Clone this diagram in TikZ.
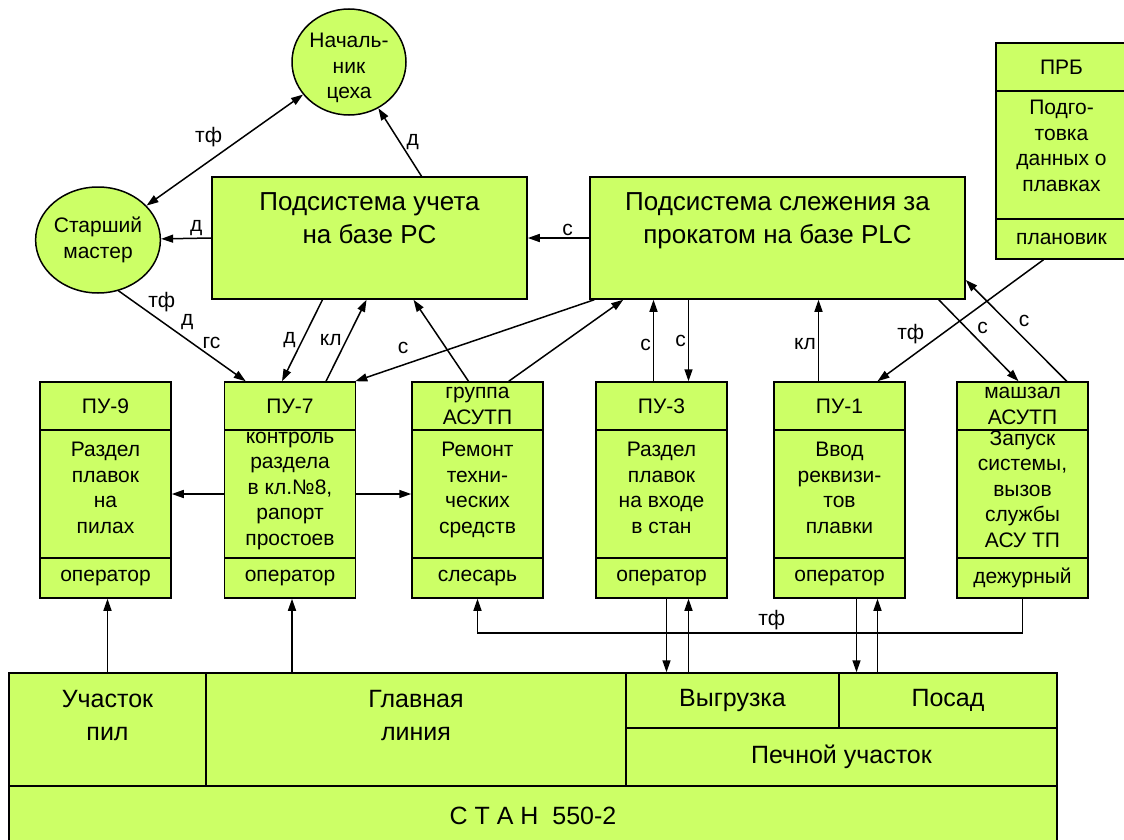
\documentclass[tikz,border=0pt]{standalone}
\usepackage{fontspec}
\setmainfont{Liberation Sans}
\usetikzlibrary{arrows.meta,shapes.geometric}
\definecolor{boxgreen}{RGB}{204,255,102}

\begin{document}
\begin{tikzpicture}[x=1pt,y=-1pt,
    >={Triangle[length=12pt,width=8pt]},
    line width=1.5pt,
    box/.style={draw,fill=boxgreen,line width=1.5pt,inner sep=0pt,align=center,font=\fontsize{21}{25.5}\selectfont},
    puhead/.style={box,minimum width=131pt,minimum height=48pt},
    pubody/.style={box,minimum width=131pt,minimum height=128pt},
    pufoot/.style={box,minimum width=131pt,minimum height=40pt},
    boss/.style={box,ellipse,minimum width=114pt,minimum height=106pt},
    bosstext/.style={align=center,inner sep=0pt,font=\fontsize{21}{25.5}\selectfont},
    bigbox/.style={box,minimum height=122pt},
    bigtext/.style={align=center,inner sep=0pt,font=\fontsize{26}{33}\selectfont},
    mill/.style={box,font=\fontsize{25}{33}\selectfont},
    milltext/.style={align=center,inner sep=0pt,font=\fontsize{25}{33}\selectfont},
    lbl/.style={font=\fontsize{21}{25}\selectfont,inner sep=2pt}]
    \clip (0,0) rectangle (1124,840);

    % Chiefs %
    \node[boss] (nach) at (349,62) {};
    \node[bosstext] (nachtext) at ([yshift=-6pt]nach) {Началь-\\ник\\цеха};
    \node[boss] (star) at (98,240) {Старший\\мастер};

    % Subsystems %
    \node[bigbox,minimum width=315pt] (uch) at (369.5,238) {};
    \node[bigtext,anchor=north] (uchtext) at ([yshift=-16pt]uch.north) {Подсистема учета\\на базе PC};
    \node[bigbox,minimum width=375pt] (sled) at (777.5,238) {};
    \node[bigtext,anchor=north] (sledtext) at ([yshift=-16pt]sled.north) {Подсистема слежения за\\прокатом на базе PLC};

    % PRB %
    \node[puhead] (prbh) at (1061.5,67) {ПРБ};
    \node[pubody] (prbb) at (1061.5,155) {Подго-\\товка\\данных о\\плавках\\[-7pt]};
    \node[pufoot] (prbf) at (1061.5,239) {плановик};

    % Stations %
    \node[puhead] (pu9h) at (105.5,406) {ПУ-9};
    \node[pubody] (pu9b) at (105.5,494) {Раздел\\плавок\\на\\пилах\\[-13pt]};
    \node[pufoot] (pu9f) at (105.5,578) {оператор};

    \node[puhead] (pu7h) at (290,406) {ПУ-7};
    \node[pubody] (pu7b) at (290,494) {контроль\\раздела\\в кл.№8,\\рапорт\\простоев\\[-15pt]};
    \node[pufoot] (pu7f) at (290,578) {оператор};

    \node[puhead] (grph) at (477.5,406) {группа\\АСУТП};
    \node[pubody] (grpb) at (477.5,494) {Ремонт\\техни-\\ческих\\средств\\[-13pt]};
    \node[pufoot] (grpf) at (477.5,578) {слесарь};

    \node[puhead] (pu3h) at (661.5,406) {ПУ-3};
    \node[pubody] (pu3b) at (661.5,494) {Раздел\\плавок\\на входе\\в стан\\[-13pt]};
    \node[pufoot] (pu3f) at (661.5,578) {оператор};

    \node[puhead] (pu1h) at (839.5,406) {ПУ-1};
    \node[pubody] (pu1b) at (839.5,494) {Ввод\\реквизи-\\тов\\плавки\\[-13pt]};
    \node[pufoot] (pu1f) at (839.5,578) {оператор};

    \node[puhead] (mshh) at (1022.5,406) {машзал\\АСУТП};
    \node[pubody] (mshb) at (1022.5,494) {Запуск\\системы,\\вызов\\службы\\АСУ ТП\\[-15pt]};
    \node[pufoot] (mshf) at (1022.5,578) {дежурный};

    % Mill %
    \node[mill,minimum width=197pt,minimum height=113pt] (uchpil) at (107.5,729.5) {};
    \node[milltext,anchor=north] (uchpiltext) at ([yshift=-17pt]uchpil.north) {Участок\\пил};
    \node[mill,minimum width=420pt,minimum height=113pt] (glav) at (416,729.5) {};
    \node[milltext,anchor=north] (glavtext) at ([yshift=-17pt]glav.north) {Главная\\линия};
    \node[mill,minimum width=213pt,minimum height=55pt] (vygr) at (732.5,700.5) {Выгрузка};
    \node[mill,minimum width=218pt,minimum height=55pt] (posad) at (948,700.5) {Посад};
    \node[mill,minimum width=431pt,minimum height=58pt] (pech) at (841.5,757) {Печной участок};
    \node[mill,minimum width=1048pt,minimum height=60pt] (stan) at (533,816) {С Т А Н \ 550-2};

    % Links %
    \draw[<->] (star) -- (nach) node[lbl,midway,above left] {тф};
    \draw[->] ([xshift=52pt]uch.north) -- (nach) node[lbl,midway,right=4pt] {д};
    \draw[->] (uch.west) -- (star) node[lbl,pos=0.3,above] {д};
    \draw[->] (sled.west) -- (uch.east) node[lbl,pos=0.35,above] {с};
    \draw[->] (star.-68) -- ([xshift=22pt]pu7h.north west)
        node[lbl,pos=0.34,above=7pt] {тф} node[lbl,pos=0.54,above=7pt] {д} node[lbl,pos=0.73,above=5pt] {гс};
    \draw[->] ([xshift=-47pt]uch.south) -- ([xshift=-8pt]pu7h.north) node[lbl,midway,left=4pt] {д};
    \draw[->] ([xshift=36pt]pu7h.north) -- ([xshift=-3pt]uch.south) node[lbl,midway,left=2pt] {кл};
    \draw[->] ([xshift=5pt]sled.south west) -- ([xshift=-1pt]pu7h.north east) node[lbl,pos=0.8,above=8pt] {с};
    \draw[->] ([xshift=-9pt]grph.north) -- ([xshift=44pt]uch.south);
    \draw[->] ([xshift=-35pt]grph.north east) -- ([xshift=34pt]sled.south west);
    \draw[->] ([xshift=-8pt]pu3h.north) -- ([xshift=-8pt]pu3h.north |- sled.south) node[lbl,midway,left,yshift=-4pt] {с};
    \draw[->] ([xshift=27pt]pu3h.north |- sled.south) -- ([xshift=27pt]pu3h.north) node[lbl,midway,left] {с};
    \draw[->] ([xshift=-21pt]pu1h.north) -- ([xshift=-21pt]pu1h.north |- sled.south) node[lbl,midway,left,yshift=-4pt] {кл};
    \draw[->] ([xshift=-18pt]prbf.south) -- ([xshift=38pt]pu1h.north) node[lbl,pos=0.8,above=10pt] {тф};
    \draw[->] ([xshift=-27pt]sled.south east) -- ([xshift=-4pt]mshh.north) node[lbl,pos=0.35,right=8pt] {с};
    \draw[->] ([xshift=-22pt]mshh.north east) -- ([yshift=-42pt]sled.east) node[lbl,pos=0.6,right=10pt] {с};
    \draw[->] (pu7b.west) -- (pu9b.east);
    \draw[->] (pu7b.east) -- (grpb.west);

    % From the mill %
    \draw[->] (uchpil.north) -- (uchpil.north |- pu9f.south);
    \draw[->] ([xshift=2pt]pu7f.south |- glav.north) -- ([xshift=2pt]pu7f.south);
    \draw[->] (mshf.south) -- ++(0,34) -| (grpf.south) node[lbl,pos=0.23,above] {тф};
    \draw[->] ([xshift=5pt]pu3f.south) -- ([xshift=5pt]pu3f.south |- vygr.north);
    \draw[->] ([xshift=27pt]pu3f.south |- vygr.north) -- ([xshift=27pt]pu3f.south);
    \draw[->] ([xshift=17pt]pu1f.south) -- ([xshift=17pt]pu1f.south |- posad.north);
    \draw[->] ([xshift=38pt]pu1f.south |- posad.north) -- ([xshift=38pt]pu1f.south);
\end{tikzpicture}
\end{document}
